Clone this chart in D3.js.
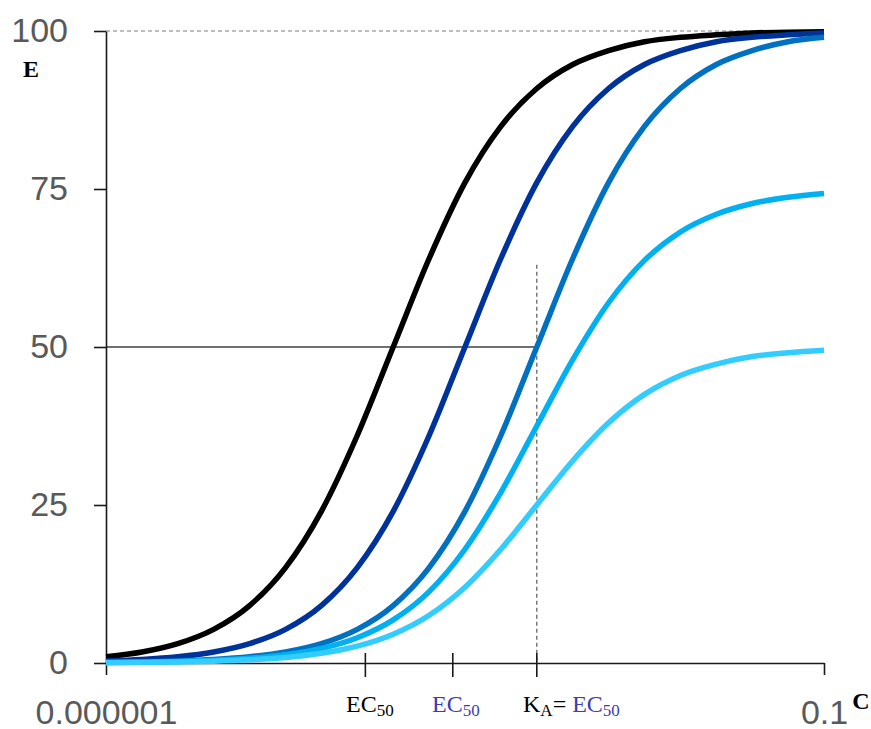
<!DOCTYPE html>
<html>
<head>
<meta charset="utf-8">
<script src="https://cdn.jsdelivr.net/npm/d3@7"></script>
<style>
  body { margin: 0; background: #fff; }
  svg { display: block; }
</style>
</head>
<body>
<script>
// agonist concentration (quarter-decade steps, 1e-6 .. 0.1)
var conc = [1e-6, 1.78e-6, 3.16e-6, 5.62e-6, 1e-5, 1.78e-5, 3.16e-5, 5.62e-5,
            1e-4, 1.78e-4, 3.16e-4, 5.62e-4, 1e-3, 1.78e-3, 3.16e-3, 5.62e-3,
            1e-2, 1.78e-2, 3.16e-2, 5.62e-2, 1e-1];

// effect E (%)
var eBlack    = [0.99, 1.75, 3.07, 5.33, 9.09, 15.1, 24.0, 36.0, 50.0, 64.0, 76.0,
                 84.9, 90.9, 94.7, 96.9, 98.3, 99.0, 99.4, 99.7, 99.8, 99.9];
var eDarkBlue = [0.32, 0.56, 0.99, 1.75, 3.07, 5.33, 9.09, 15.1, 24.0, 36.0, 50.0,
                 64.0, 76.0, 84.9, 90.9, 94.7, 96.9, 98.3, 99.0, 99.4, 99.7];
var eMidBlue  = [0.10, 0.18, 0.32, 0.56, 0.99, 1.75, 3.07, 5.33, 9.09, 15.1, 24.0,
                 36.0, 50.0, 64.0, 76.0, 84.9, 90.9, 94.7, 96.9, 98.3, 99.0];
var eLightBlue = [0.08, 0.13, 0.24, 0.42, 0.74, 1.31, 2.30, 4.00, 6.82, 11.3, 18.0,
                  27.0, 37.5, 48.0, 57.0, 63.7, 68.2, 71.0, 72.7, 73.7, 74.3];
var eSkyBlue  = [0.05, 0.09, 0.16, 0.28, 0.50, 0.87, 1.53, 2.66, 4.55, 7.55, 12.0,
                 18.0, 25.0, 32.0, 38.0, 42.5, 45.5, 47.3, 48.5, 49.1, 49.5];

var seriesColors = ["#000000", "#003399", "#0070c0", "#00b0f0", "#33ccff"];

// axis ticks
var yTicks = [0, 25, 50, 75, 100];
var xTicks = [1e-6, 0.1];
var xTickLabels = ["0.000001", "0.1"];

// EC50 / KA markers on the concentration axis
var ec50Ticks = [6.4e-5, 2.6e-4, 1e-3];
var kaConc = 1e-3;
var kaLineTop = 63;

//chart frame
var width = 871,
    height = 729;

var svg = d3.select("body")
    .append("svg")
    .attr("width", width)
    .attr("height", height);

var x = d3.scaleLog()
    .domain([1e-6, 0.1])
    .range([106, 824]);

var y = d3.scaleLinear()
    .domain([0, 100])
    .range([663, 31]);

//reference lines
svg.append("line")
    .attr("x1", x(1e-6)).attr("x2", x(0.1))
    .attr("y1", y(100)).attr("y2", y(100))
    .attr("stroke", "#7f7f7f")
    .attr("stroke-width", 1.2)
    .attr("stroke-dasharray", "4,3");

svg.append("line")
    .attr("x1", x(1e-6)).attr("x2", x(kaConc))
    .attr("y1", y(50)).attr("y2", y(50))
    .attr("stroke", "#404040")
    .attr("stroke-width", 1.3);

svg.append("line")
    .attr("x1", x(kaConc)).attr("x2", x(kaConc))
    .attr("y1", y(kaLineTop)).attr("y2", y(0))
    .attr("stroke", "#595959")
    .attr("stroke-width", 1.2)
    .attr("stroke-dasharray", "4,3");

//y axis
var yAxis = svg.append("g")
    .attr("transform", "translate(" + x(1e-6) + ",0)")
    .call(d3.axisLeft(y)
        .tickValues(yTicks)
        .tickSize(12)
        .tickSizeOuter(0)
        .tickPadding(26));

yAxis.select(".domain").attr("stroke", "#1a1a1a").attr("stroke-width", 1.6);
yAxis.selectAll(".tick line").attr("stroke", "#1a1a1a").attr("stroke-width", 1.6);
yAxis.selectAll(".tick text")
    .attr("fill", "#595959")
    .style("font-family", "'Liberation Sans', Arial, sans-serif")
    .style("font-size", "34px");

//x axis
var xAxis = svg.append("g")
    .attr("transform", "translate(0," + y(0) + ")")
    .call(d3.axisBottom(x)
        .tickValues(xTicks)
        .tickFormat(function(d, i){ return xTickLabels[i]; })
        .tickSize(12)
        .tickSizeOuter(0)
        .tickPadding(25));

xAxis.select(".domain").attr("stroke", "#1a1a1a").attr("stroke-width", 1.6);
xAxis.selectAll(".tick line").attr("stroke", "#1a1a1a").attr("stroke-width", 1.6);
xAxis.selectAll(".tick text")
    .attr("fill", "#595959")
    .style("font-family", "'Liberation Sans', Arial, sans-serif")
    .style("font-size", "34px");

//EC50 tick marks crossing the axis
svg.selectAll(".ecTick")
    .data(ec50Ticks)
    .enter()
    .append("line")
    .attr("class", "ecTick")
    .attr("x1", function(d){ return x(d); })
    .attr("x2", function(d){ return x(d); })
    .attr("y1", y(0) - 10)
    .attr("y2", y(0) + 14)
    .attr("stroke", "#1a1a1a")
    .attr("stroke-width", 1.6);

//curves
var allSeries = [eBlack, eDarkBlue, eMidBlue, eLightBlue, eSkyBlue];

var line = d3.line()
    .x(function(d, i){ return x(conc[i]); })
    .y(function(d){ return y(d); })
    .curve(d3.curveMonotoneX);

svg.selectAll(".curve")
    .data(allSeries)
    .enter()
    .append("path")
    .attr("class", "curve")
    .attr("d", line)
    .attr("fill", "none")
    .attr("stroke", function(d, i){ return seriesColors[i]; })
    .attr("stroke-width", 5.5);

//axis titles
var serif = "'Liberation Serif', 'Times New Roman', serif";

svg.append("text")
    .attr("x", 31).attr("y", 77)
    .attr("text-anchor", "middle")
    .style("font-family", serif)
    .style("font-weight", "bold")
    .style("font-size", "24px")
    .text("E");

svg.append("text")
    .attr("x", 861).attr("y", 709)
    .attr("text-anchor", "middle")
    .style("font-family", serif)
    .style("font-weight", "bold")
    .style("font-size", "24px")
    .text("C");

//EC50 labels
var labelBlue = "#3c3cb4";

function ecLabel(sel, color){
    sel.append("tspan").attr("fill", color).text("EC");
    sel.append("tspan").attr("fill", color)
        .attr("dy", 4).style("font-size", "17px").text("50");
}

var lab1 = svg.append("text")
    .attr("x", 346).attr("y", 712)
    .style("font-family", serif)
    .style("font-size", "24px");
ecLabel(lab1, "#000");

var lab2 = svg.append("text")
    .attr("x", 432).attr("y", 712)
    .style("font-family", serif)
    .style("font-size", "24px");
ecLabel(lab2, labelBlue);

var lab3 = svg.append("text")
    .attr("x", 523).attr("y", 712)
    .style("font-family", serif)
    .style("font-size", "24px");
lab3.append("tspan").text("K");
lab3.append("tspan").attr("dy", 4).style("font-size", "17px").text("A");
lab3.append("tspan").attr("dy", -4).text("= ");
ecLabel(lab3, labelBlue);
</script>
</body>
</html>
